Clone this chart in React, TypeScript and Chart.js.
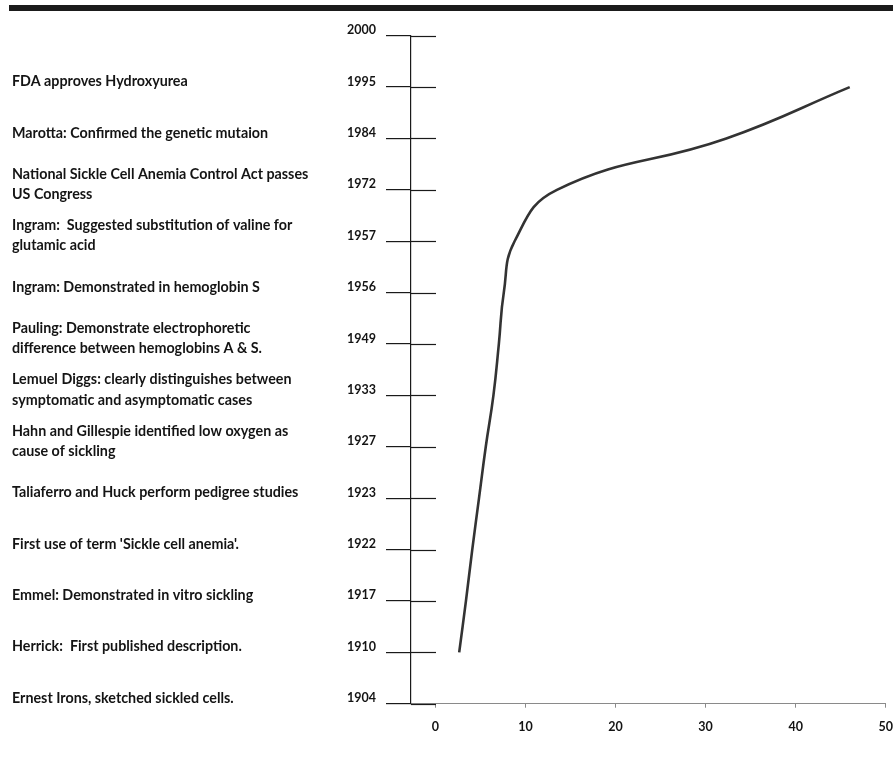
import React, { useEffect, useRef } from 'react';
import { Chart, registerables } from 'chart.js';

Chart.register(...registerables);

// Year levels on the vertical axis (bottom to top)
const yearLabels = ['1904', '1910', '1917', '1922', '1923', '1927', '1933', '1949', '1956', '1957', '1972', '1984', '1995', '2000'];

// Event descriptions for each year level (bottom to top)
const eventLabels: (string | string[])[] = [
  'Ernest Irons, sketched sickled cells.',
  'Herrick:  First published description.',
  'Emmel: Demonstrated in vitro sickling',
  "First use of term 'Sickle cell anemia'.",
  'Taliaferro and Huck perform pedigree studies',
  ['Hahn and Gillespie identified low oxygen as', 'cause of sickling'],
  ['Lemuel Diggs: clearly distinguishes between', 'symptomatic and asymptomatic cases'],
  ['Pauling: Demonstrate electrophoretic', 'difference between hemoglobins A & S.'],
  'Ingram: Demonstrated in hemoglobin S',
  ['Ingram:  Suggested substitution of valine for', 'glutamic acid'],
  ['National Sickle Cell Anemia Control Act passes', 'US Congress'],
  'Marotta: Confirmed the genetic mutaion',
  'FDA approves Hydroxyurea',
  '',
];

// Curve: years and horizontal values
const curveYears = ['1910', '1917', '1922', '1923', '1927', '1933', '1949', '1956', '1957', '1972', '1984', '1995'];
const curveValues = [2.65, 3.4, 4.1, 4.85, 5.6, 6.45, 7.05, 7.6, 8.8, 13.5, 32.3, 46.0];

const xTicks = [0, 10, 20, 30, 40, 50];

const TEXT = '#141414';
const AXIS = '#1a1a1a';
const GREY = '#8a8a8a';
const FONT = 'Lato';

const innerTicks = {
  id: 'innerTicks',
  afterDraw(chart: any) {
    const y = chart.scales.y;
    const { ctx, chartArea } = chart;
    ctx.save();
    ctx.strokeStyle = AXIS;
    ctx.lineWidth = 1.2;
    y.ticks.forEach((t: any) => {
      const py = Math.round(y.getPixelForValue(t.value)) + 0.5;
      ctx.beginPath();
      ctx.moveTo(chartArea.left, py);
      ctx.lineTo(chartArea.left + 25, py);
      ctx.stroke();
    });
    ctx.restore();
  },
};

export default function App() {
  const ref = useRef<HTMLCanvasElement | null>(null);

  useEffect(() => {
    if (!ref.current) return;
    const data = curveYears.map((yr, i) => ({ x: curveValues[i], y: yearLabels.indexOf(yr) }));
    const chart = new Chart(ref.current, {
      type: 'line',
      data: {
        datasets: [
          {
            data,
            borderColor: '#333333',
            borderWidth: 2.6,
            pointRadius: 0,
            tension: 0.45,
            fill: false,
          },
        ],
      },
      options: {
        animation: false,
        responsive: false,
        devicePixelRatio: 1,
        layout: { padding: { left: 12, top: 35.7, right: 905 - 887, bottom: 757 - 703.7 - 40 } },
        plugins: { legend: { display: false }, tooltip: { enabled: false } },
        scales: {
          x: {
            type: 'linear',
            min: -2.7,
            max: 50,
            afterBuildTicks: (s: any) => {
              s.ticks = xTicks.map((v) => ({ value: v }));
            },
            afterFit: (s: any) => {
              s.height = 40;
            },
            ticks: {
              color: TEXT,
              padding: 12,
              font: { family: FONT, weight: 'bold', size: 12.5 },
            },
            grid: { drawOnChartArea: false, tickLength: 4, color: GREY, lineWidth: 1 },
            border: { color: GREY, width: 1 },
          },
          y: {
            type: 'linear',
            position: 'left',
            weight: 0,
            min: 0,
            max: yearLabels.length - 1,
            afterBuildTicks: (s: any) => {
              s.ticks = yearLabels.map((_, i) => ({ value: i }));
            },
            afterFit: (s: any) => {
              s.width = 80;
            },
            ticks: {
              autoSkip: false,
              color: TEXT,
              padding: 10,
              labelOffset: -5.5,
              callback: (v: any) => yearLabels[v],
              font: { family: FONT, weight: 'bold', size: 12.5 },
            },
            grid: { drawOnChartArea: false, tickLength: 25, color: AXIS, lineWidth: 1.2 },
            border: { color: AXIS, width: 1.2 },
          },
          ev: {
            type: 'linear',
            position: 'left',
            weight: 1,
            min: 0,
            max: yearLabels.length - 1,
            afterBuildTicks: (s: any) => {
              s.ticks = eventLabels.map((_, i) => ({ value: i }));
            },
            afterFit: (s: any) => {
              s.width = 319;
            },
            ticks: {
              autoSkip: false,
              color: TEXT,
              crossAlign: 'far',
              padding: 0,
              labelOffset: -5.5,
              callback: (v: any) => eventLabels[v],
              font: { family: FONT, weight: 'bold', size: 14.3, lineHeight: 1.4 },
            },
            grid: { display: false },
            border: { display: false },
          },
        },
      } as any,
      plugins: [innerTicks],
    });
    return () => chart.destroy();
  }, []);

  return (
    <div style={{ position: 'absolute', left: 0, top: 0, width: 893, height: 757, overflow: 'hidden', background: '#fff' }}>
      <div style={{ position: 'absolute', left: 9, top: 5, width: 884, height: 6, background: '#1b1b1b' }} />
      <canvas ref={ref} width={905} height={757} style={{ position: 'absolute', left: 0, top: 0, width: 905, height: 757 }} />
    </div>
  );
}
